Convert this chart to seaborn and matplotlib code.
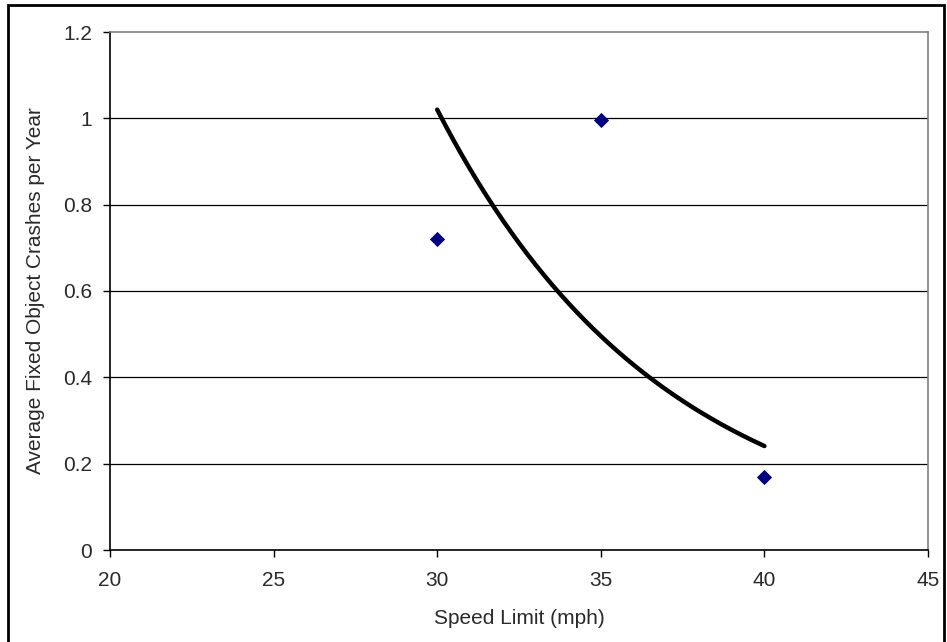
import numpy as np
import pandas as pd
import matplotlib
matplotlib.use("Agg")
import matplotlib.pyplot as plt
import seaborn as sns
from matplotlib.patches import Rectangle

# Data
speed_limit = [30, 35, 40]
crashes_per_year = [0.72, 0.995, 0.17]
x_ticks = [20, 25, 30, 35, 40, 45]
y_ticks = [0, 0.2, 0.4, 0.6, 0.8, 1.0, 1.2]
y_tick_labels = ["0", "0.2", "0.4", "0.6", "0.8", "1", "1.2"]

sns.set_theme(style="white")
plt.rcParams["font.family"] = ["Liberation Sans", "DejaVu Sans"]

df = pd.DataFrame({"speed": speed_limit, "crashes": crashes_per_year})

# Exponential trendline fitted to the points (as in the original spreadsheet chart)
b, ln_a = np.polyfit(df["speed"], np.log(df["crashes"]), 1)
trend_x = np.linspace(min(speed_limit), max(speed_limit), 200)
trend = pd.DataFrame({"speed": trend_x, "crashes": np.exp(ln_a + b * trend_x)})

fig = plt.figure(figsize=(9.47, 6.42), dpi=100)
ax = fig.add_axes([110 / 947, 1 - 550 / 642, (928 - 110) / 947, (550 - 32) / 642])

for yv in y_ticks[1:-1]:
    ax.axhline(yv, color="black", lw=0.9, zorder=1)

sns.lineplot(data=trend, x="speed", y="crashes", ax=ax, color="black", lw=3.2,
             zorder=3, solid_capstyle="round")
sns.scatterplot(data=df, x="speed", y="crashes", ax=ax, marker="D", s=60,
                color="#000080", linewidth=0, zorder=4)

ax.set_xlim(20, 45)
ax.set_ylim(0, 1.2)
ax.set_xticks(x_ticks)
ax.set_xticklabels([str(v) for v in x_ticks])
ax.set_yticks(y_ticks)
ax.set_yticklabels(y_tick_labels)
ax.tick_params(axis="both", direction="out", length=5, width=1, color="black",
               labelsize=15, labelcolor="#2a2a2a", bottom=True, left=True)
ax.tick_params(axis="x", pad=10)
ax.tick_params(axis="y", pad=8)

ax.set_xlabel("Speed Limit (mph)", fontsize=15, color="#2a2a2a", labelpad=14)
ax.set_ylabel("Average Fixed Object Crashes per Year", fontsize=15, color="#2a2a2a",
              labelpad=13)

for side in ["left", "bottom"]:
    ax.spines[side].set_color("black")
    ax.spines[side].set_linewidth(1.2)
for side in ["top", "right"]:
    ax.spines[side].set_color("#808080")
    ax.spines[side].set_linewidth(1.2)
ax.set_facecolor("white")

fig.patches.append(Rectangle((8 / 947, -0.05), (944 - 8) / 947, 1.05 - 5 / 642,
                             transform=fig.transFigure, fill=False,
                             edgecolor="black", lw=2, zorder=10))

fig.savefig("out.png", dpi=100, facecolor="white")
